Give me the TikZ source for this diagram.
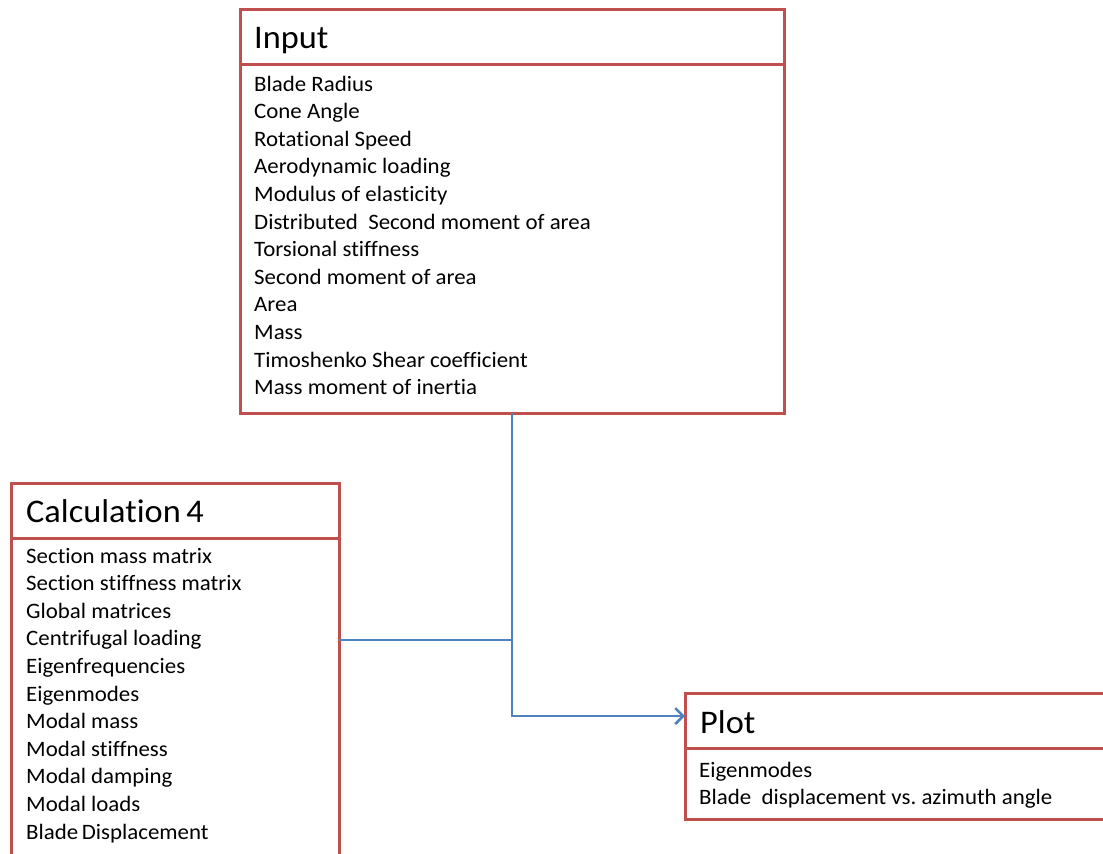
\documentclass[tikz,border=0pt]{standalone}
\usepackage{fontspec}
\setmainfont{Carlito}[Ligatures={NoCommon},FakeStretch=1.04]
\usetikzlibrary{arrows.meta}
\definecolor{boxred}{HTML}{C0504D}
\definecolor{linkblue}{HTML}{4F81BD}
\frenchspacing
\begin{document}
\begin{tikzpicture}[x=1pt,y=-1pt,
  boxpart/.style={draw=boxred,line width=3pt,anchor=north west,inner sep=0pt,outer sep=0pt},
  title/.style={anchor=base west,inner sep=0pt,font=\fontsize{33}{40}\selectfont},
  item/.style={anchor=base west,inner sep=0pt,font=\fontsize{22}{27}\selectfont},
  link/.style={draw=linkblue,line width=2.5pt}]
\useasboundingbox (0,0) rectangle (1103,854);
\clip (0,0) rectangle (1103,854);
% Input box
\node[boxpart,minimum width=544pt,minimum height=55pt] (inhead) at (240,9) {};
\node[boxpart,minimum width=544pt,minimum height=349pt] (inbody) at (240,64) {};
\node[title] (intitle) at (254,48) {Input};
\foreach \t [count=\i from 0] in {Blade Radius,Cone Angle,Rotational Speed,Aerodynamic loading,Modulus of elasticity,Distributed\ \ Second moment of area,Torsional stiffness,Second moment of area,Area,Mass,Timoshenko Shear coefficient,Mass moment of inertia}
  \node[item] (in\i) at (254,91+27.6*\i) {\t};
% Calculation box
\node[boxpart,minimum width=328pt,minimum height=55pt] (calchead) at (11,483) {};
\node[boxpart,minimum width=328pt,minimum height=340pt] (calcbody) at (11,538) {};
\node[title] (calctitle) at (26,522) {Calculation\,4};
\foreach \t [count=\i from 0] in {Section mass matrix,Section stiffness matrix,Global matrices,Centrifugal loading,Eigenfrequencies,Eigenmodes,Modal mass,Modal stiffness,Modal damping,Modal loads,Blade\,Displacement}
  \node[item] (calc\i) at (26,563+27.6*\i) {\t};
% Plot box
\node[boxpart,minimum width=435pt,minimum height=55pt] (plothead) at (685,693) {};
\node[boxpart,minimum width=435pt,minimum height=71pt] (plotbody) at (685,748) {};
\node[title] (plottitle) at (700,733) {Plot};
\node[item] (plot0) at (699,777) {Eigenmodes};
\node[item] (plot1) at (699,804) {Blade\ \ displacement vs.\ azimuth angle};
% connectors
\coordinate (j1) at (512,640);
\coordinate (j2) at (512,716);
\draw[link,-{Straight Barb[length=8pt,width=16pt]}] (inbody.south) -- (j2) -- (j2 -| plothead.west);
\draw[link] (calcbody.east |- j1) -- (j1);
\end{tikzpicture}
\end{document}
